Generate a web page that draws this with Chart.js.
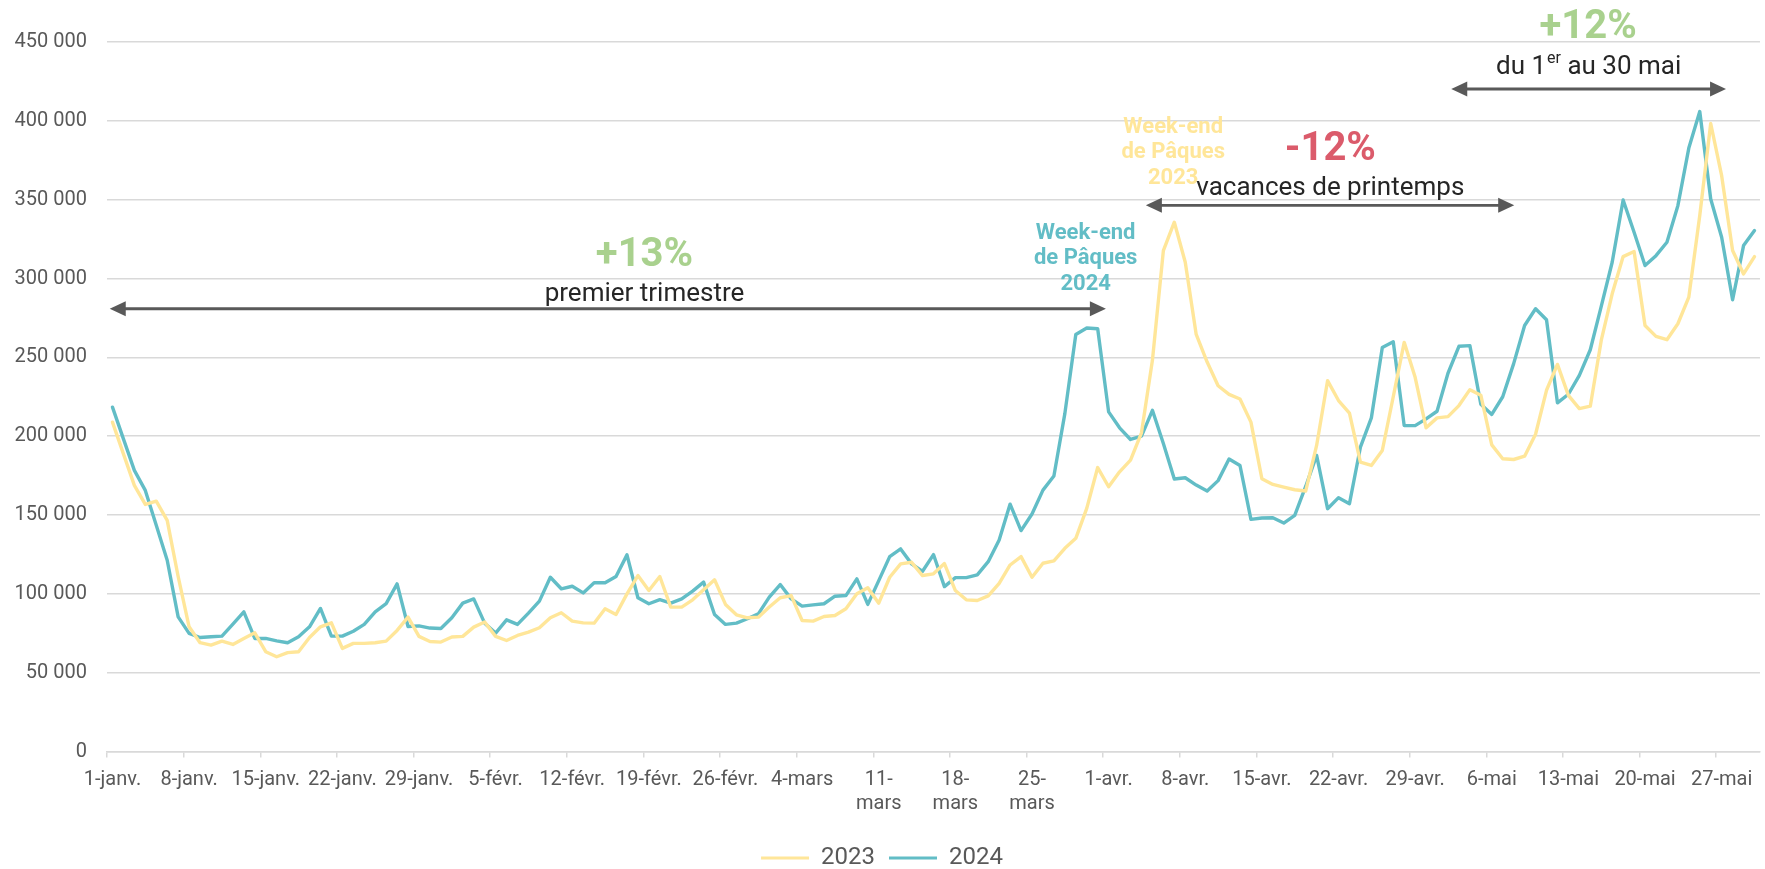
<!DOCTYPE html>
<html>
<head>
<meta charset="utf-8">
<script src="https://cdn.jsdelivr.net/npm/chart.js@4.4.1/dist/chart.umd.min.js"></script>
<style>
html,body{margin:0;padding:0;background:#ffffff;overflow:hidden}
#wrap{width:1765px;height:869px;position:relative}
</style>
</head>
<body>
<div id="wrap"><canvas id="c" width="1765" height="869"></canvas></div>
<script>
// ---------- DATA ----------
const monthNames = ['janv.', 'févr.', 'mars', 'avr.', 'mai'];
const monthLengths = [31, 29, 31, 30, 31];
const dayCount = 151; // 1 janv. -> 30 mai
const categories = [];
for (let m = 0; m < monthNames.length; m++) {
  for (let d = 1; d <= monthLengths[m]; d++) {
    if (categories.length < dayCount) categories.push(d + '-' + monthNames[m]);
  }
}

const weeklyTickLabels = ['1-janv.', '8-janv.', '15-janv.', '22-janv.', '29-janv.', '5-févr.', '12-févr.',
  '19-févr.', '26-févr.', '4-mars', ['11-', 'mars'], ['18-', 'mars'], ['25-', 'mars'], '1-avr.', '8-avr.',
  '15-avr.', '22-avr.', '29-avr.', '6-mai', '13-mai', '20-mai', '27-mai'];

const yTicks = [0, 50000, 100000, 150000, 200000, 250000, 300000, 350000, 400000, 450000];

const series2023 = [
  208900, 188800, 168800, 156700, 158800, 146600, 111000, 79100, 69000, 67500,
  70000, 67900, 71700, 75300, 63300, 60100, 62700, 63300, 72300, 79100,
  81600, 65400, 68600, 68600, 69000, 70000, 76800, 85200, 73000, 69800,
  69400, 72600, 73000, 78900, 82100, 73000, 70400, 73600, 75700, 78500,
  84800, 88000, 82700, 81600, 81400, 90500, 86900, 100000, 111600, 102100,
  111000, 91600, 91600, 96200, 102600, 108900, 93300, 86700, 84800, 85200,
  91600, 97500, 98900, 83100, 82700, 85600, 86300, 90500, 100000, 103800,
  94100, 110500, 119000, 120000, 111600, 112700, 119200, 102100, 96200, 95800,
  98700, 106700, 118300, 123600, 110500, 119400, 120900, 128900, 135200, 154200,
  180100, 167900, 177400, 184800, 202100, 248100, 317700, 335700, 310300, 264500,
  247000, 232000, 226500, 223600, 208900, 173000, 169400, 167700, 166000, 165200,
  194100, 235200, 222600, 214600, 183500, 181400, 190900, 225000, 259500, 237300,
  205300, 211600, 212400, 219400, 229500, 226000, 194500, 185700, 185200, 187300,
  201200, 229100, 245500, 225900, 217500, 219000, 260700, 290300, 313900, 317100,
  270200, 263300, 261200, 271300, 288200, 340000, 398300, 365200, 317700, 302900,
  313900
];

const series2024 = [
  218400, 198300, 178300, 165600, 143500, 121300, 85400, 74900, 72300, 72800,
  73200, 80800, 88600, 71700, 71700, 70200, 69000, 72800, 79100, 90700,
  73200, 73200, 76300, 80600, 88600, 93800, 106300, 79300, 79700, 78300,
  78000, 84800, 94100, 96800, 81400, 75100, 83500, 80600, 87800, 95400,
  110500, 103200, 104800, 100600, 107000, 107000, 111000, 124700, 97500, 93700,
  96300, 94100, 96800, 101700, 107400, 86900, 80600, 81400, 84200, 87300,
  97900, 105900, 96800, 92200, 93000, 93700, 98500, 98900, 109500, 93300,
  108400, 123600, 128500, 119000, 114300, 124900, 104600, 110300, 110300, 112000,
  120400, 134200, 156900, 140100, 150600, 165800, 174700, 214300, 264500, 268600,
  268100, 215400, 205300, 197900, 200000, 216400, 195300, 172800, 173600, 169000,
  165200, 171800, 185500, 181400, 147200, 148100, 148300, 144900, 149800, 168100,
  187800, 154000, 161000, 157200, 193000, 211600, 256300, 259900, 206700, 206700,
  211000, 215800, 239900, 257000, 257400, 220300, 213800, 225000, 246000, 270200,
  280800, 273800, 221100, 226600, 238600, 254800, 282300, 310300, 349800, 329300,
  308200, 314500, 323000, 346200, 382700, 405900, 350400, 326200, 286500, 320900,
  330400
];

// ---------- STYLE ----------
const YELLOW = '#ffe699';
const BLUE = '#62bdc6';
const GREEN = '#a9d18e';
const RED = '#db5b6b';
const DARK = '#262626';
const AXIS_TEXT = '#595959';
const GRID = '#d9d9d9';
const FONT = 'Roboto';

// annotations positioned in data units (category index, value)
const annotationTexts = [
  {lines: ['+13%'], i: 48.6, v: [308000], color: GREEN, size: 40, bold: true},
  {lines: ['premier trimestre'], i: 48.6, v: [285900], color: DARK, size: 26, bold: false},
  {lines: ['Week-end', 'de Pâques', '2024'], i: 88.9, v: [325200, 309000, 292800], color: BLUE, size: 22, bold: true},
  {lines: ['Week-end', 'de Pâques', '2023'], i: 96.9, v: [392300, 376200, 360000], color: YELLOW, size: 22, bold: true},
  {lines: ['-12%'], i: 111.25, v: [375000], color: RED, size: 40, bold: true},
  {lines: ['vacances de printemps'], i: 111.25, v: [353000], color: DARK, size: 26, bold: false},
  {lines: ['+12%'], i: 134.8, v: [452700], color: GREEN, size: 40, bold: true}
];
const annotationSup = {pre: 'du 1', sup: 'er', post: ' au 30 mai', i: 134.8, v: 429500, color: DARK, size: 26};
const arrows = [
  {i1: -0.25, i2: 90.75, v: 280800},
  {i1: 94.4, i2: 128.05, v: 346400},
  {i1: 122.3, i2: 147.4, v: 420200}
];

function fmt(v) {
  return String(v).replace(/\B(?=(\d{3})+(?!\d))/g, ' ');
}

const annotationPlugin = {
  id: 'annot',
  afterDatasetsDraw(chart) {
    const ctx = chart.ctx;
    const xs = chart.scales.x, ys = chart.scales.y;
    ctx.save();
    arrows.forEach(a => {
      const x1 = xs.getPixelForValue(a.i1), x2 = xs.getPixelForValue(a.i2), y = ys.getPixelForValue(a.v);
      const hl = 16, hh = 7.5;
      ctx.strokeStyle = '#595959';
      ctx.fillStyle = '#595959';
      ctx.lineWidth = 2.8;
      ctx.beginPath();
      ctx.moveTo(x1 + hl - 1, y);
      ctx.lineTo(x2 - hl + 1, y);
      ctx.stroke();
      ctx.beginPath();
      ctx.moveTo(x1, y); ctx.lineTo(x1 + hl, y - hh); ctx.lineTo(x1 + hl, y + hh); ctx.closePath(); ctx.fill();
      ctx.beginPath();
      ctx.moveTo(x2, y); ctx.lineTo(x2 - hl, y - hh); ctx.lineTo(x2 - hl, y + hh); ctx.closePath(); ctx.fill();
    });
    ctx.textAlign = 'center';
    ctx.textBaseline = 'alphabetic';
    annotationTexts.forEach(t => {
      ctx.font = (t.bold ? 'bold ' : '') + t.size + 'px ' + FONT;
      ctx.fillStyle = t.color;
      const x = xs.getPixelForValue(t.i);
      t.lines.forEach((ln, k) => {
        ctx.fillText(ln, x, ys.getPixelForValue(t.v[k]));
      });
    });
    const s = annotationSup;
    ctx.textAlign = 'left';
    ctx.fillStyle = s.color;
    ctx.font = s.size + 'px ' + FONT;
    const wPre = ctx.measureText(s.pre).width, wPost = ctx.measureText(s.post).width;
    ctx.font = Math.round(s.size * 0.6) + 'px ' + FONT;
    const wSup = ctx.measureText(s.sup).width;
    const total = wPre + wSup + wPost;
    const cx = xs.getPixelForValue(s.i), by = ys.getPixelForValue(s.v);
    const x0 = cx - total / 2;
    ctx.font = s.size + 'px ' + FONT;
    ctx.fillText(s.pre, x0, by);
    ctx.font = Math.round(s.size * 0.6) + 'px ' + FONT;
    ctx.fillText(s.sup, x0 + wPre + 1, by - s.size * 0.42);
    ctx.font = s.size + 'px ' + FONT;
    ctx.fillText(s.post, x0 + wPre + wSup + 1, by);
    ctx.restore();
  }
};

const ctx = document.getElementById('c').getContext('2d');
new Chart(ctx, {
  type: 'line',
  data: {
    labels: categories,
    datasets: [
      {label: '2023', data: series2023, borderColor: YELLOW, backgroundColor: YELLOW, borderWidth: 3.4,
        pointRadius: 0, tension: 0, borderJoinStyle: 'round', borderCapStyle: 'round', fill: false},
      {label: '2024', data: series2024, borderColor: BLUE, backgroundColor: BLUE, borderWidth: 3.4,
        pointRadius: 0, tension: 0, borderJoinStyle: 'round', borderCapStyle: 'round', fill: false}
    ]
  },
  options: {
    responsive: false,
    animation: false,
    devicePixelRatio: 1,
    layout: {padding: {left: 0, right: 1, top: 42, bottom: -11}},
    plugins: {
      legend: {
        position: 'bottom',
        labels: {
          boxWidth: 48, boxHeight: 3, padding: 14, color: AXIS_TEXT,
          font: {family: FONT, size: 24},
          generateLabels: (chart) => Chart.defaults.plugins.legend.labels.generateLabels(chart)
            .map(l => Object.assign({}, l, {lineWidth: 0}))
        }
      },
      tooltip: {enabled: false}
    },
    scales: {
      x: {
        offset: true,
        grid: {
          offset: true, drawOnChartArea: false, drawTicks: true, tickLength: 6, lineWidth: 1.5,
          color: (c) => (c.index % 7 === 0 ? GRID : 'rgba(0,0,0,0)'),
          tickColor: (c) => (c.index % 7 === 0 ? GRID : 'rgba(0,0,0,0)')
        },
        border: {display: true, color: GRID, width: 1.5},
        ticks: {
          autoSkip: false, maxRotation: 0, minRotation: 0, padding: 10.5, color: AXIS_TEXT,
          font: {family: FONT, size: 20},
          callback: (v, i) => (i % 7 === 0 ? weeklyTickLabels[i / 7] : '')
        },
        afterFit: (s) => { s.height = 80.5; }
      },
      y: {
        min: yTicks[0], max: yTicks[yTicks.length - 1],
        afterBuildTicks: (s) => { s.ticks = yTicks.map(v => ({value: v})); },
        ticks: {padding: 20, color: AXIS_TEXT, font: {family: FONT, size: 20}, callback: (v) => fmt(v)},
        grid: {color: GRID, lineWidth: 1.5, drawTicks: false},
        border: {display: false},
        afterFit: (s) => { s.width = 107; }
      }
    }
  },
  plugins: [annotationPlugin]
});
</script>
</body>
</html>
